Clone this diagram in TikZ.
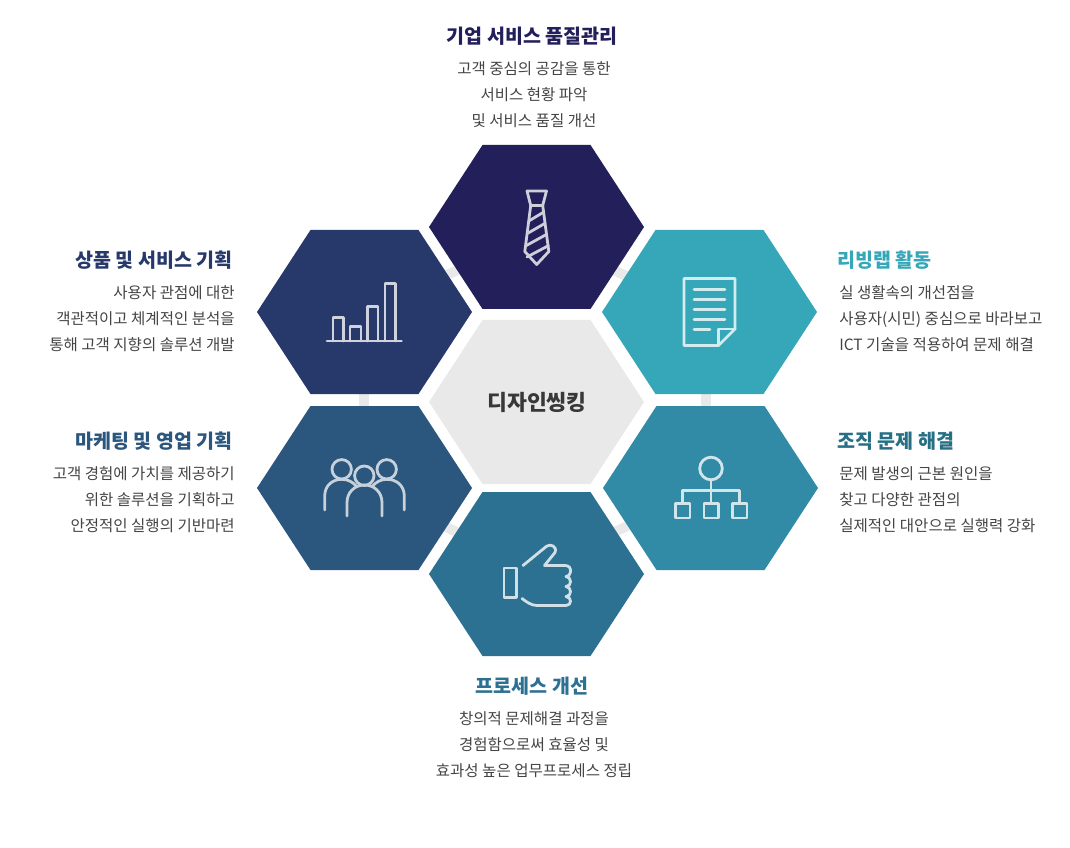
\documentclass[tikz,border=0pt]{standalone}
\usepackage{fontspec}
\setmainfont{Noto Sans CJK KR}
\usetikzlibrary{calc}
\definecolor{cTop}{HTML}{231F5B}
\definecolor{cLT}{HTML}{27396B}
\definecolor{cRT}{HTML}{36A7B8}
\definecolor{cLB}{HTML}{2B567D}
\definecolor{cRB}{HTML}{318BA6}
\definecolor{cBot}{HTML}{2C7092}
\definecolor{cMid}{HTML}{E9E9E9}
\definecolor{cTxt}{HTML}{444444}
\tikzset{
  x=0.75pt,y=-0.75pt,
  hexfill/.style={fill=#1,draw=none},
  ringseg/.style={draw=cMid,line width=7.5pt},
  icon/.style={draw=#1,line width=2.1pt,line join=round,line cap=round,fill=none},
  ttl/.style={font=\fontsize{14.65}{18}\selectfont\bfseries,inner sep=0pt},
  bdy/.style={font=\fontsize{11.65}{19.5}\selectfont,text=cTxt,inner sep=0pt},
}
\newcommand{\hexat}[3]{\fill[hexfill=#3] ($(#1,#2)+(-107.5,0)$) -- ($(#1,#2)+(-54,-82)$) -- ($(#1,#2)+(54,-82)$) -- ($(#1,#2)+(107.5,0)$) -- ($(#1,#2)+(54,82)$) -- ($(#1,#2)+(-54,82)$) -- cycle;}
\begin{document}
\begin{tikzpicture}
\useasboundingbox (0,0) rectangle (1070,848);
% ring behind
\coordinate (r1) at (536,235);
\coordinate (r2) at (706,312);
\coordinate (r3) at (706,488);
\coordinate (r4) at (536,570);
\coordinate (r5) at (364,488);
\coordinate (r6) at (364,312);
\draw[ringseg] (r1) -- (r2);
\draw[ringseg] (r2) -- (r3);
\draw[ringseg] (r3) -- (r4);
\draw[ringseg] (r4) -- (r5);
\draw[ringseg] (r5) -- (r6);
\draw[ringseg] (r6) -- (r1);
% hexagons
\hexat{536.5}{227}{cTop}
\hexat{364.5}{312}{cLT}
\hexat{709.5}{312}{cRT}
\hexat{536.5}{402}{cMid}
\hexat{364.5}{488}{cLB}
\hexat{710.5}{488}{cRB}
\hexat{536.5}{574}{cBot}
% tie
\colorlet{TieC}{white!78!cTop}
\draw[icon=TieC] (527,191) -- (546.5,191) -- (542.7,205.5) -- (530.7,205.5) -- cycle;
\draw[icon=TieC] (530.7,205.5) -- (524.8,251.5) -- (536.7,264.5) -- (548.8,251.5) -- (542.7,205.5);
\draw[icon=TieC] (529.3,220.7) -- (542.7,212.7);
\draw[icon=TieC] (527.7,233.3) -- (545,223.3);
\draw[icon=TieC] (526,245.7) -- (546.7,234.3);
\draw[icon=TieC] (527,257) -- (548.3,245.7);
% bars
\colorlet{BarC}{white!78!cLT}
\draw[icon=BarC] (327,341) -- (401.5,341);
\draw[icon=BarC] (333,341) -- (333,317.5) -- (343.5,317.5) -- (343.5,341);
\draw[icon=BarC] (350,341) -- (350,326.5) -- (361,326.5) -- (361,341);
\draw[icon=BarC] (367.5,341) -- (367.5,306.5) -- (378,306.5) -- (378,341);
\draw[icon=BarC] (385,341) -- (385,283.5) -- (395.5,283.5) -- (395.5,341);
% document
\colorlet{DocC}{white!78!cRT}
\draw[icon=DocC,line cap=butt] (684,278.5) -- (735,278.5) -- (735,329) -- (718.5,345.5) -- (684,345.5) -- cycle;
\draw[icon=DocC] (735,329) -- (718.5,329) -- (718.5,345.5);
\foreach \yy in {289.5,299.5,309.5,319.5} {\draw[icon=DocC] (694,\yy) -- (725,\yy);}
\draw[icon=DocC] (694,329.5) -- (710,329.5);
% people
\colorlet{PplC}{white!73!cLB}
\draw[icon=PplC] (341.7,469.3) circle[radius=9.7];
\draw[icon=PplC] (364.3,475.7) circle[radius=9.7];
\draw[icon=PplC] (386.7,469.3) circle[radius=9.7];
\draw[icon=PplC] (324.7,510) -- (324.7,496) .. controls (324.7,486) and (332,479.3) .. (341.7,479.3) .. controls (348,479.3) and (353,482) .. (356.5,486.5);
\draw[icon=PplC] (404.3,510) -- (404.3,496) .. controls (404.3,486) and (397,479.3) .. (386.7,479.3) .. controls (381,479.3) and (376,482) .. (372,486.5);
\draw[icon=PplC] (347,516) -- (347,502.5) .. controls (347,492.5) and (354.5,485) .. (364.5,485) .. controls (374.5,485) and (382,492.5) .. (382,502.5) -- (382,516);
% org chart
\colorlet{OrgC}{white!78!cRB}
\draw[icon=OrgC] (711,468.5) circle[radius=11.3];
\draw[icon=OrgC] (711,480) -- (711,503.5);
\draw[icon=OrgC] (682.5,503.5) -- (682.5,490.5) -- (739.5,490.5) -- (739.5,503.5);
\draw[icon=OrgC,line cap=butt] (675.5,503.5) rectangle (690,518);
\draw[icon=OrgC,line cap=butt] (704,503.5) rectangle (718.5,518);
\draw[icon=OrgC,line cap=butt] (732.5,503.5) rectangle (747,518);
% thumb
\colorlet{ThmC}{white!78!cBot}
\draw[icon=ThmC,line cap=butt] (504,568) rectangle (516.5,597.5);
\draw[icon=ThmC] (523,565.5) -- (546.5,546.3) .. controls (550,543.5) and (557.5,546) .. (555,552.5) -- (544.5,565.5) -- (565,565.5) .. controls (569,565.5) and (571,568) .. (570.5,572) .. controls (570.5,575) and (568,576.5) .. (566,576.5) .. controls (572,577) and (572,586.5) .. (566,586.5) .. controls (572,587) and (572,596.5) .. (566,596.5) .. controls (572,597) and (572,605.5) .. (566,605.5) -- (537,605.5) .. controls (531,605.5) and (526,601.5) .. (522,598.5);
% labels
\node[ttl,text=cTop] (tTop) at (532,36) {기업 서비스 품질관리};
\node[bdy,align=center] (bTop) at (534,95) {고객 중심의 공감을 통한\\서비스 현황 파악\\및 서비스 품질 개선};
\node[ttl,text=cLT,anchor=east] (tLT) at (233,260) {상품 및 서비스 기획};
\node[bdy,align=right,anchor=east] (bLT) at (235,319) {사용자 관점에 대한\\객관적이고 체계적인 분석을\\통해 고객 지향의 솔루션 개발};
\node[ttl,text=cLB,anchor=east] (tLB) at (233,441) {마케팅 및 영업 기획};
\node[bdy,align=right,anchor=east] (bLB) at (235,500) {고객 경험에 가치를 제공하기\\위한 솔루션을 기획하고\\안정적인 실행의 기반마련};
\node[ttl,text=cRT,anchor=west] (tRT) at (837,260) {리빙랩 활동};
\node[bdy,align=left,anchor=west] (bRT) at (839,319) {실 생활속의 개선점을\\사용자(시민) 중심으로 바라보고\\ICT 기술을 적용하여 문제 해결};
\node[ttl,text=cRB!80!black,anchor=west] (tRB) at (837,441) {조직 문제 해결};
\node[bdy,align=left,anchor=west] (bRB) at (839,500) {문제 발생의 근본 원인을\\찾고 다양한 관점의\\실제적인 대안으로 실행력 강화};
\node[ttl,text=cBot,anchor=center] (tBot) at (532,686) {프로세스 개선};
\node[bdy,align=center] (bBot) at (534,745) {창의적 문제해결 과정을\\경험함으로써 효율성 및\\효과성 높은 업무프로세스 정립};
\node[font=\fontsize{16.2}{20}\selectfont\bfseries,text=black!78,inner sep=0pt] (mid) at (537,402) {디자인씽킹};
\end{tikzpicture}
\end{document}
